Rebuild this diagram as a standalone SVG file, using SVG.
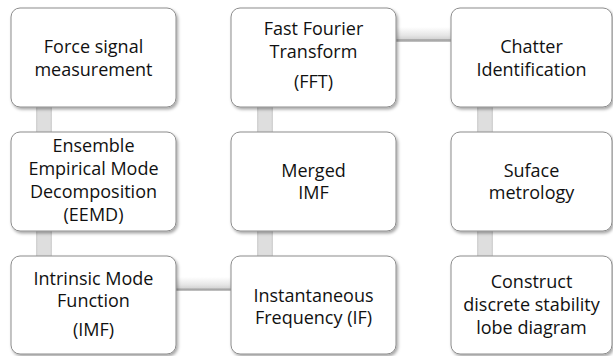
<svg xmlns="http://www.w3.org/2000/svg" width="613" height="356" viewBox="0 0 613 356">
<defs>
<filter id="sh" x="-10%" y="-10%" width="125%" height="125%">
<feDropShadow dx="1.5" dy="2" stdDeviation="1.6" flood-color="#000" flood-opacity="0.35"/>
</filter>
<linearGradient id="hg" x1="0" y1="0" x2="0" y2="1">
<stop offset="0" stop-color="#ffffff"/>
<stop offset="0.55" stop-color="#e6e6e6"/>
<stop offset="0.8" stop-color="#d4d4d4"/>
<stop offset="0.85" stop-color="#9a9a9a"/>
<stop offset="1" stop-color="#c8c8c8"/>
</linearGradient>
<linearGradient id="vg" x1="0" y1="0" x2="1" y2="0">
<stop offset="0" stop-color="#cfcfcf"/>
<stop offset="0.15" stop-color="#dedede"/>
<stop offset="0.85" stop-color="#dedede"/>
<stop offset="1" stop-color="#cfcfcf"/>
</linearGradient>
</defs>
<style>
.box{fill:#fff;stroke:#8c8c8c;stroke-width:1;filter:url(#sh)}
.t{font-family:"Open Sans","Noto Sans","Liberation Sans",sans-serif;font-size:18px;fill:#111;text-anchor:middle}
.v{fill:url(#vg)}
.h{fill:url(#hg)}
</style>
<rect width="613" height="356" fill="#fff"/>
<g id="connectors">
<rect class="v" x="36" y="100" width="16" height="40"/>
<rect class="v" x="36" y="224" width="16" height="40"/>
<rect class="h" x="170" y="277" width="68" height="14"/>
<rect class="v" x="257" y="224" width="16" height="40"/>
<rect class="v" x="257" y="100" width="16" height="40"/>
<rect class="h" x="390" y="27" width="68" height="15"/>
<rect class="v" x="477" y="100" width="16" height="40"/>
<rect class="v" x="477" y="224" width="16" height="40"/>
</g>
<g id="n1"><rect class="box" x="11" y="8" width="165" height="99" rx="9"/>
<text class="t" x="93.5" y="53">Force signal</text><text class="t" x="93.5" y="76">measurement</text></g>
<g id="n2"><rect class="box" x="11" y="132" width="165" height="99" rx="9"/>
<text class="t" x="93.5" y="152">Ensemble</text><text class="t" x="93.5" y="175">Empirical Mode</text><text class="t" x="93.5" y="198">Decomposition</text><text class="t" x="93.5" y="221">(EEMD)</text></g>
<g id="n3"><rect class="box" x="11" y="256" width="165" height="98" rx="9"/>
<text class="t" x="93.5" y="285">Intrinsic Mode</text><text class="t" x="93.5" y="307">Function</text><text class="t" x="93.5" y="336">(IMF)</text></g>
<g id="n4"><rect class="box" x="231" y="256" width="165" height="98" rx="9"/>
<text class="t" x="313.5" y="302">Instantaneous</text><text class="t" x="313.5" y="324">Frequency (IF)</text></g>
<g id="n5"><rect class="box" x="231" y="132" width="165" height="99" rx="9"/>
<text class="t" x="313.5" y="177">Merged</text><text class="t" x="313.5" y="199">IMF</text></g>
<g id="n6"><rect class="box" x="231" y="8" width="165" height="99" rx="9"/>
<text class="t" x="313.5" y="35">Fast Fourier</text><text class="t" x="313.5" y="58">Transform</text><text class="t" x="313.5" y="88">(FFT)</text></g>
<g id="n7"><rect class="box" x="451" y="8" width="161" height="99" rx="9"/>
<text class="t" x="531.5" y="53">Chatter</text><text class="t" x="531.5" y="76">Identification</text></g>
<g id="n8"><rect class="box" x="451" y="132" width="161" height="99" rx="9"/>
<text class="t" x="531.5" y="177">Suface</text><text class="t" x="531.5" y="199">metrology</text></g>
<g id="n9"><rect class="box" x="451" y="256" width="161" height="98" rx="9"/>
<text class="t" x="531.5" y="288">Construct</text><text class="t" x="531.5" y="311">discrete stability</text><text class="t" x="531.5" y="334">lobe diagram</text></g>
</svg>
